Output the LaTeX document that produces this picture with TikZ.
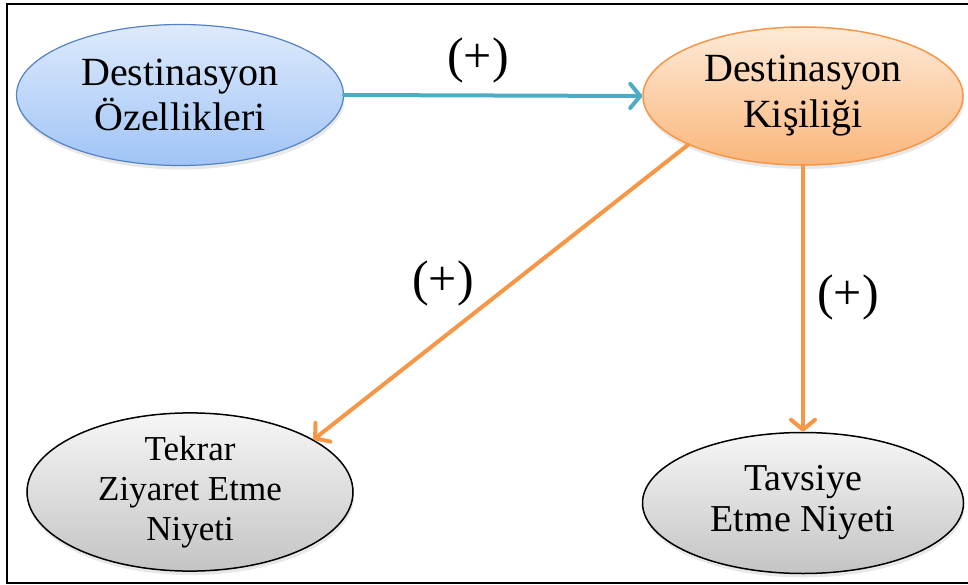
\documentclass[tikz,border=0pt]{standalone}
\usepackage{fontspec}
\setmainfont{Liberation Serif}
\usetikzlibrary{shapes.geometric,arrows.meta,shadows}

\definecolor{blueedge}{RGB}{84,130,196}
\definecolor{bluetop}{RGB}{222,234,252}
\definecolor{bluebot}{RGB}{160,196,246}
\definecolor{orangeedge}{RGB}{247,150,70}
\definecolor{orangetop}{RGB}{253,234,216}
\definecolor{orangebot}{RGB}{250,182,122}
\definecolor{graytop}{RGB}{246,246,246}
\definecolor{graybot}{RGB}{196,196,196}
\definecolor{tealarrow}{RGB}{75,172,198}
\definecolor{orangearrow}{RGB}{247,150,70}

\tikzset{
  bubble/.style={ellipse, inner sep=0pt, align=center,
    drop shadow={opacity=0.18, shadow xshift=1pt, shadow yshift=-4pt}},
  bluebubble/.style={bubble, draw=blueedge, line width=1.2pt,
    top color=bluetop, bottom color=bluebot},
  orangebubble/.style={bubble, draw=orangeedge, line width=1.5pt,
    top color=orangetop, bottom color=orangebot},
  graybubble/.style={bubble, draw=black, line width=1.5pt,
    top color=graytop, bottom color=graybot},
  link/.style={line width=4pt, line cap=round,
    -{Straight Barb[length=10pt, width=24pt, line width=4pt, round]}},
  sign/.style={font=\fontsize{50}{54}\selectfont}
}

\begin{document}
\begin{tikzpicture}[x=1pt, y=-1pt]
  \useasboundingbox (0,0) rectangle (968,585);

  % open frame around the model
  \draw[line width=2pt] (968,4) -- (7,4) -- (7,583) -- (968,583);

  % constructs
  \node[bluebubble, minimum width=327pt, minimum height=141pt,
        font=\fontsize{40}{45}\selectfont] (ozellik) at (180,95)
        {Destinasyon\\Özellikleri};
  \node[orangebubble, minimum width=320pt, minimum height=138pt,
        font=\fontsize{40}{46}\selectfont] (kisilik) at (803,96)
        {Destinasyon\\Kişiliği};
  \node[graybubble, minimum width=326pt, minimum height=137pt,
        font=\fontsize{35}{40}\selectfont] (tekrar) at (190,492)
        {Tekrar\\Ziyaret Etme\\Niyeti};
  \node[graybubble, minimum width=321pt, minimum height=141pt,
        font=\fontsize{38}{41}\selectfont] (tavsiye) at (803,503)
        {Tavsiye\\Etme Niyeti};

  % hypothesised paths
  \draw[link, tealarrow] (ozellik.east) -- (kisilik.west);
  \draw[link, orangearrow] (kisilik.203) -- (tekrar.23);
  \draw[link, orangearrow] (kisilik.south) -- (tavsiye.north);

  % signs of the paths
  \node[sign] (s1) at (478,60) {(+)};
  \node[sign] (s2) at (443,283) {(+)};
  \node[sign] (s3) at (848,297) {(+)};
\end{tikzpicture}
\end{document}
